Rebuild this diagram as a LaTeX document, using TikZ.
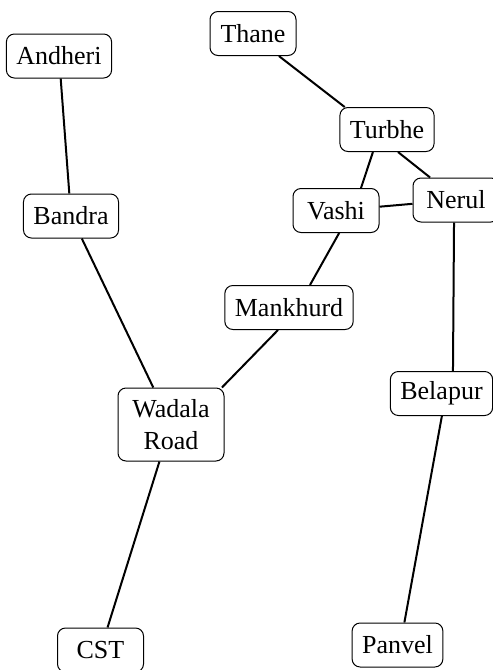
\documentclass[tikz,border=0pt]{standalone}
\usepackage{fontspec}
\setmainfont{Liberation Serif}
\usetikzlibrary{positioning}

\begin{document}
\begin{tikzpicture}[
    x=0.5pt, y=-0.5pt,
    station/.style={rectangle, rounded corners=4pt, draw=black, line width=0.5pt, minimum width=43pt, minimum height=22pt, inner xsep=5pt, inner ysep=5pt, align=center, font=\fontsize{13}{16}\selectfont},
    track/.style={line width=1pt, black},
]
\useasboundingbox (0,0) rectangle (493,670);

% Western line
\node[station] (andheri) at (59,56) {Andheri};
\node[station] (bandra) at (71,216) {Bandra};
\node[station, minimum width=53pt, minimum height=36.5pt] (wadala) at (171,424.5) {Wadala\\Road};
\node[station] (cst) at (100.5,650) {CST};

% Harbour line
\node[station] (mankhurd) at (289,307.5) {Mankhurd};
\node[station] (vashi) at (336,210.5) {Vashi};

% Trans-Harbour line
\node[station] (thane) at (253,33.5) {Thane};
\node[station] (turbhe) at (387,129.5) {Turbhe};
\node[station] (nerul) at (456,200) {Nerul};
\node[station] (belapur) at (441.5,393.5) {Belapur};
\node[station] (panvel) at (397.5,645) {Panvel};

% Tracks
\draw[track] (andheri) -- (bandra);
\draw[track] (bandra) -- (wadala);
\draw[track] (wadala) -- (cst);
\draw[track] (wadala.36) -- (mankhurd.244);
\draw[track] (mankhurd.47) -- (vashi.278);
\draw[track] (vashi.42) -- (turbhe.238);
\draw[track] (vashi) -- (nerul);
\draw[track] (thane.319) -- (turbhe.152);
\draw[track] (turbhe.296) -- (nerul.139);
\draw[track] (nerul.265) -- (belapur.63);
\draw[track] (belapur.271) -- (panvel.73);

\end{tikzpicture}
\end{document}
